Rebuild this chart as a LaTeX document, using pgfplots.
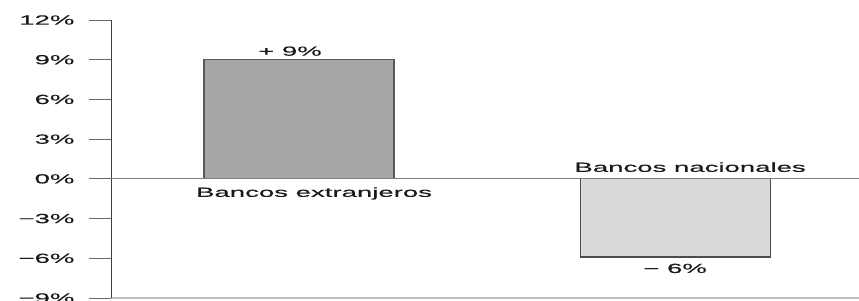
\documentclass[border=0pt]{standalone}
\usepackage{fontspec}
\setmainfont{Liberation Sans}
\newfontfamily\widefont[FakeStretch=2.08, FakeBold=0.4]{Liberation Sans}
\usepackage{pgfplots}
\pgfplotsset{compat=1.18}
\definecolor{barA}{HTML}{A6A6A6}
\definecolor{barB}{HTML}{D9D9D9}
\definecolor{txt}{HTML}{1A1A1A}
\begin{document}
\begin{tikzpicture}
\begin{axis}[
  at={(111bp,3bp)}, anchor=south west,
  scale only axis, width=748bp, height=278bp,
  xmin=-0.5, xmax=1.489, ymin=-9, ymax=12,
  axis x line=bottom, axis y line=left,
  x axis line style={-, draw=black!25, line width=1.6pt},
  y axis line style={-, draw=black!75, line width=1pt},
  xtick=\empty,
  ytick={-9,-6,-3,0,3,6,9,12},
  yticklabels={−9\%,−6\%,−3\%,0\%,3\%,6\%,9\%,12\%},
  tick align=outside, major tick length=22bp,
  ytick style={draw=black!60, line width=0.8pt},
  yticklabel style={font=\widefont\fontsize{13.3}{15}\selectfont, text=txt, anchor=east, xshift=-11bp},
  clip=false,
]
\addplot[ybar, bar width=190bp, bar shift=0pt, fill=barA, draw=black!65, line width=1.2pt] coordinates {(0,9)};
\addplot[ybar, bar width=190bp, bar shift=0pt, fill=barB, draw=black!70, line width=1.2pt] coordinates {(1,-5.9)};
\draw[black!50, line width=0.8pt] (axis cs:-0.5,0) -- (axis cs:1.489,0);
\node[font=\widefont\fontsize{13.3}{15}\selectfont, text=txt, anchor=base, yshift=4bp] at (axis cs:-0.024,9) {+ 9\%};
\node[font=\widefont\fontsize{13.3}{15}\selectfont, text=txt, anchor=base, yshift=-18bp] at (axis cs:0.04,0) {Bancos extranjeros};
\node[font=\widefont\fontsize{13.3}{15}\selectfont, text=txt, anchor=base, yshift=7bp] at (axis cs:1.04,0) {Bancos nacionales};
\node[font=\widefont\fontsize{13.3}{15}\selectfont, text=txt, anchor=base, yshift=-16bp] at (axis cs:1,-5.9) {− 6\%};
\end{axis}
\pgfresetboundingbox
\useasboundingbox (0bp,0bp) rectangle (859bp,301bp);
\end{tikzpicture}
\end{document}
